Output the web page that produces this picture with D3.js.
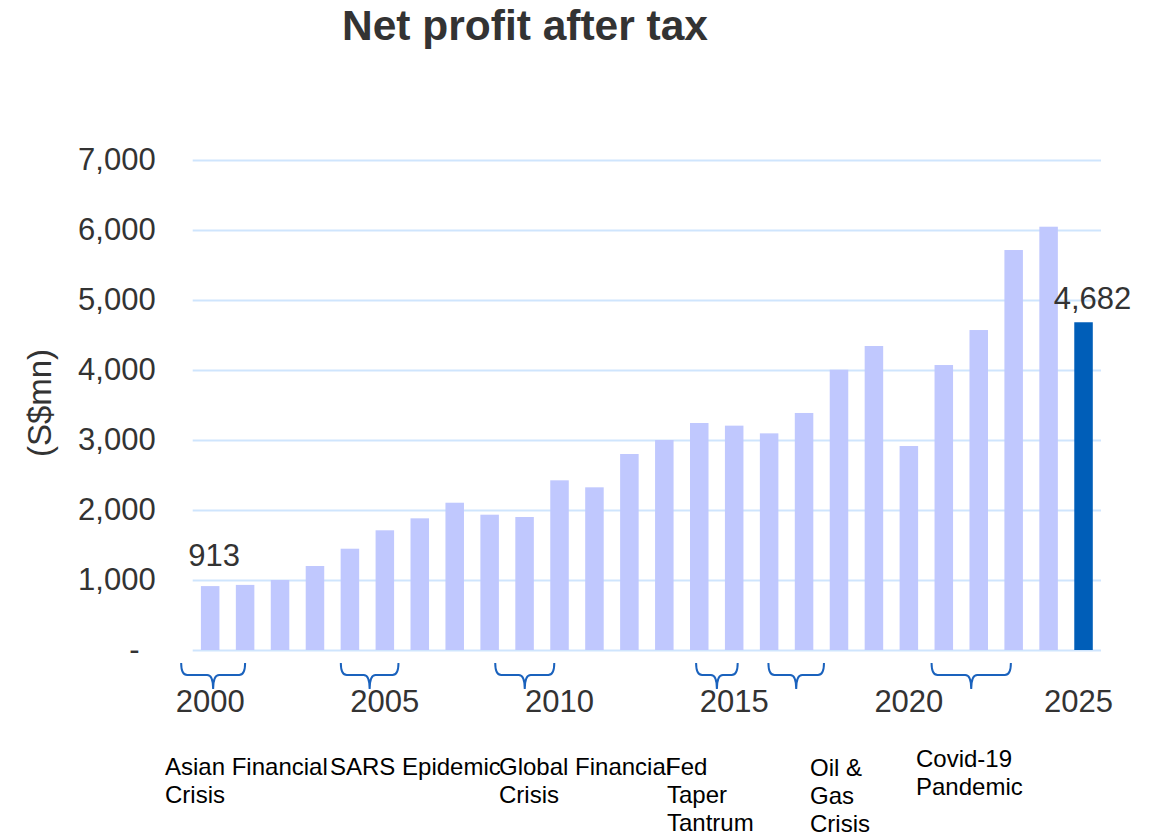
<!DOCTYPE html>
<html>
<head>
<meta charset="utf-8">
<script src="https://cdn.jsdelivr.net/npm/d3@7"></script>
<style>
  body { margin: 0; background: #fff; }
  svg { display: block; font-family: "Liberation Sans", Arial, sans-serif; }
  .axis .domain { display: none; }
</style>
</head>
<body>
<svg id="chart" width="1158" height="838"></svg>
<script>
// data
const years = d3.range(2000, 2026)
const profits = [913, 930, 1000, 1200, 1447, 1710, 1881, 2104, 1933, 1900,
  2424, 2324, 2800, 3000, 3243, 3205, 3095, 3386, 4004, 4343,
  2914, 4071, 4571, 5714, 6047, 4682]
const highlightYear = 2025
const labelledYears = [2000, 2025]
const yTicks = [0, 1000, 2000, 3000, 4000, 5000, 6000, 7000]
const xTicks = [2000, 2005, 2010, 2015, 2020, 2025]

// crisis braces: span in years (fractional) and caption lines
const crisisNames = ['Asian Financial Crisis', 'SARS Epidemic', 'Global Financial Crisis',
  'Fed Taper Tantrum', 'Oil & Gas Crisis', 'Covid-19 Pandemic']
const crisisSpans = [[1999.17, 2001.0], [2003.74, 2005.39], [2008.16, 2009.85],
  [2013.91, 2015.1], [2015.98, 2017.57], [2020.65, 2022.92]]
const crisisLines = [['Asian Financial', 'Crisis'], ['SARS Epidemic'], ['Global Financial', 'Crisis'],
  ['Fed', 'Taper', 'Tantrum'], ['Oil &', 'Gas', 'Crisis'], ['Covid-19', 'Pandemic']]
const crisisTextX = [165, 330, 499, 666, 810, 916]
const crisisTextY = [775, 775, 775, 775, 776, 767]

const data = years.map((yr, i) => ({year: yr, value: profits[i]}))

const svg = d3.select('#chart')
const margin = {left: 192.7, right: 57, top: 160, bottom: 188}
const W = 1158, H = 838
const innerW = W - margin.left - margin.right
const innerH = H - margin.top - margin.bottom

const g = svg.append('g').attr('transform', `translate(${margin.left}, ${margin.top})`)

const x = d3.scaleBand().domain(years).range([0, innerW]).paddingInner(0.47).paddingOuter(0.235)
const y = d3.scaleLinear().domain([0, 7000]).range([innerH, 0])
const yearX = d3.scaleLinear().domain([2000, 2001])
  .range([x(2000) + x.bandwidth() / 2, x(2001) + x.bandwidth() / 2])

// title
svg.append('text')
  .attr('x', 525).attr('y', 40)
  .attr('text-anchor', 'middle')
  .attr('font-size', 42.5).attr('font-weight', 'bold')
  .attr('fill', '#333')
  .text('Net profit after tax')

// y axis + gridlines
const yAxis = g.append('g').attr('class', 'axis')
  .call(d3.axisLeft(y).tickValues(yTicks).tickSize(-innerW).tickPadding(37)
    .tickFormat(d => d === 0 ? '-' : d3.format(',')(d)))
yAxis.selectAll('.tick line').attr('stroke', '#cfe5fd').attr('stroke-width', 2)
yAxis.selectAll('.tick text')
  .attr('font-size', 31).attr('fill', '#333')
  .attr('font-family', '"Liberation Sans", Arial, sans-serif')
yAxis.selectAll('.tick text').filter(d => d === 0).attr('dx', -16)

svg.append('text')
  .attr('transform', 'translate(51, 403) rotate(-90)')
  .attr('text-anchor', 'middle')
  .attr('font-size', 33).attr('fill', '#333')
  .text('(S$mn)')

// bars
g.selectAll('rect.bar')
  .data(data)
  .join('rect')
  .attr('class', 'bar')
  .attr('x', d => x(d.year))
  .attr('width', x.bandwidth())
  .attr('y', d => y(d.value))
  .attr('height', d => innerH - y(d.value))
  .attr('fill', d => d.year === highlightYear ? '#005eb8' : '#c0c8fe')

// data labels
g.selectAll('text.lbl')
  .data(data.filter(d => labelledYears.includes(d.year)))
  .join('text')
  .attr('class', 'lbl')
  .attr('x', d => x(d.year) + x.bandwidth() / 2 + (d.year === highlightYear ? 9 : 4))
  .attr('y', d => y(d.value) - (d.year === highlightYear ? 13 : 20))
  .attr('text-anchor', 'middle')
  .attr('font-size', 31).attr('fill', '#333')
  .text(d => d3.format(',')(d.value))

// x axis labels
const xAxis = g.append('g').attr('class', 'axis')
  .attr('transform', `translate(0, ${innerH})`)
  .call(d3.axisBottom(x).tickValues(xTicks).tickSize(0))
xAxis.selectAll('.tick text')
  .attr('y', 62).attr('dy', 0)
  .attr('font-size', 31).attr('fill', '#333')
  .attr('font-family', '"Liberation Sans", Arial, sans-serif')
xAxis.selectAll('.tick text').filter(d => d === 2025).attr('dx', -5)

// braces
const braceTop = 663, braceMid = 675, braceTip = 689
function bracePath(x0, x1) {
  const cx = (x0 + x1) / 2, r = 6
  return `M${x0},${braceTop} Q${x0},${braceMid} ${x0 + r},${braceMid} L${cx - r},${braceMid}` +
    ` Q${cx},${braceMid} ${cx},${braceTip} Q${cx},${braceMid} ${cx + r},${braceMid}` +
    ` L${x1 - r},${braceMid} Q${x1},${braceMid} ${x1},${braceTop}`
}
svg.append('g')
  .attr('transform', `translate(${margin.left}, 0)`)
  .selectAll('path')
  .data(crisisSpans)
  .join('path')
  .attr('d', s => bracePath(yearX(s[0]), yearX(s[1])))
  .attr('fill', 'none')
  .attr('stroke', '#1a62bd')
  .attr('stroke-width', 2)

// crisis captions
const cap = svg.append('g')
crisisLines.forEach((lines, i) => {
  const t = cap.append('text')
    .attr('x', crisisTextX[i]).attr('y', crisisTextY[i])
    .attr('font-size', 24).attr('fill', '#000')
  lines.forEach((ln, j) => {
    t.append('tspan')
      .attr('x', crisisTextX[i] + (i === 3 && j > 0 ? 1 : 0))
      .attr('dy', j === 0 ? 0 : 28)
      .text(ln)
  })
})
</script>
</body>
</html>
